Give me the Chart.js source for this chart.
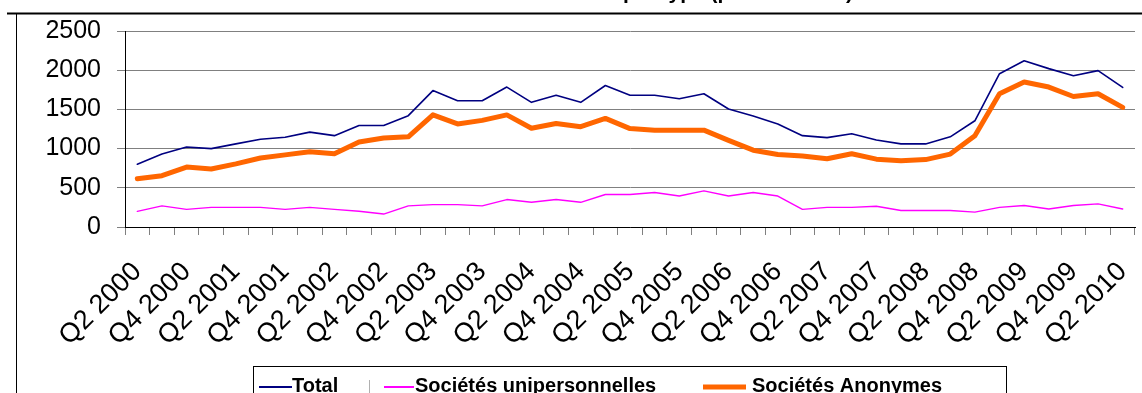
<!DOCTYPE html>
<html>
<head>
<meta charset="utf-8">
<script src="https://cdn.jsdelivr.net/npm/chart.js@4.4.0/dist/chart.umd.min.js"></script>
<style>
  html, body { margin: 0; padding: 0; background: #fff; overflow: hidden; }
  #wrap { position: relative; width: 1142px; height: 393px; }
</style>
</head>
<body>
<div id="wrap"><canvas id="chart" width="1142" height="393"></canvas></div>
<script>
// Quarterly categories (every other one is labelled on the axis)
const quarters = [
  'Q2 2000','Q3 2000','Q4 2000','Q1 2001','Q2 2001','Q3 2001','Q4 2001',
  'Q1 2002','Q2 2002','Q3 2002','Q4 2002','Q1 2003','Q2 2003','Q3 2003',
  'Q4 2003','Q1 2004','Q2 2004','Q3 2004','Q4 2004','Q1 2005','Q2 2005',
  'Q3 2005','Q4 2005','Q1 2006','Q2 2006','Q3 2006','Q4 2006','Q1 2007',
  'Q2 2007','Q3 2007','Q4 2007','Q1 2008','Q2 2008','Q3 2008','Q4 2008',
  'Q1 2009','Q2 2009','Q3 2009','Q4 2009','Q1 2010','Q2 2010'
];

const total = [
  800, 930, 1020, 1000, 1060, 1120, 1145, 1210, 1165, 1295, 1295, 1420,
  1740, 1610, 1610, 1785, 1590, 1680, 1590, 1805, 1680, 1680, 1635, 1700,
  1505, 1415, 1315, 1165, 1140, 1190, 1110, 1060, 1060, 1150, 1355, 1955,
  2120, 2020, 1930, 1995, 1780
];

const unipersonnelles = [
  200, 270, 225, 250, 250, 250, 225, 250, 225, 200, 165, 270,
  285, 285, 270, 350, 315, 350, 315, 415, 415, 440, 395, 460,
  395, 440, 395, 225, 250, 250, 265, 210, 210, 210, 190, 250,
  275, 230, 275, 295, 230
];

const anonymes = [
  615, 655, 765, 740, 805, 880, 920, 960, 935, 1085, 1135, 1150,
  1430, 1315, 1360, 1430, 1260, 1320, 1280, 1385, 1255, 1235, 1235, 1235,
  1105, 980, 925, 905, 870, 935, 865, 845, 860, 930, 1165, 1700,
  1850, 1785, 1665, 1700, 1525
];

const seriesNames = ['Total', 'Sociétés unipersonnelles', 'Sociétés Anonymes'];
const seriesColors = ['#000080', '#FF00FF', '#FF6600'];
const seriesWidths = [1.6, 1.4, 5];
const yTicks = [0, 500, 1000, 1500, 2000, 2500];
const titleText = 'Créations de sociétés par type (par trimestre)';

const FONT = "'Liberation Sans', Arial, Helvetica, sans-serif";

// Outer frame of the chart area (top rule and left edge)
const framePlugin = {
  id: 'frame',
  afterDraw(chart) {
    const ctx = chart.ctx;
    ctx.save();
    ctx.strokeStyle = '#000';
    ctx.lineWidth = 2;
    ctx.beginPath();
    ctx.moveTo(7, 13.5);
    ctx.lineTo(chart.width, 13.5);
    ctx.stroke();
    ctx.lineWidth = 1;
    ctx.beginPath();
    ctx.moveTo(16.5, 13);
    ctx.lineTo(16.5, chart.height);
    ctx.stroke();
    ctx.restore();
  }
};

// Title sits above the frame, mostly outside the visible canvas
const titlePlugin = {
  id: 'topTitle',
  afterDraw(chart) {
    const ctx = chart.ctx;
    ctx.save();
    ctx.font = 'bold 21px ' + FONT;
    ctx.fillStyle = '#000';
    ctx.textAlign = 'right';
    ctx.textBaseline = 'alphabetic';
    ctx.fillText(titleText, 853, -1);
    ctx.restore();
  }
};

// Boxed legend along the bottom edge
const legendPlugin = {
  id: 'boxLegend',
  afterDraw(chart) {
    const ctx = chart.ctx;
    ctx.save();
    ctx.strokeStyle = '#000';
    ctx.lineWidth = 1;
    ctx.strokeRect(253.5, 366.5, 753, 60);

    // faint divider after the first entry
    ctx.strokeStyle = '#b0b0b0';
    ctx.beginPath();
    ctx.moveTo(369.5, 380);
    ctx.lineTo(369.5, 393);
    ctx.stroke();

    const entries = [
      { x0: 259, x1: 292, tx: 292 },
      { x0: 384, x1: 414, tx: 415 },
      { x0: 703, x1: 746, tx: 752 }
    ];
    const lineY = 387;
    ctx.font = 'bold 20px ' + FONT;
    ctx.textBaseline = 'alphabetic';
    ctx.textAlign = 'left';
    chart.data.datasets.forEach((ds, i) => {
      const e = entries[i];
      ctx.strokeStyle = ds.borderColor;
      ctx.lineWidth = ds.borderWidth < 3 ? 2 : ds.borderWidth;
      ctx.lineCap = 'butt';
      ctx.beginPath();
      ctx.moveTo(e.x0, lineY);
      ctx.lineTo(e.x1, lineY);
      ctx.stroke();
      ctx.fillStyle = '#000';
      ctx.fillText(ds.label, e.tx, 392);
    });
    ctx.restore();
  }
};

const ctx = document.getElementById('chart').getContext('2d');
new Chart(ctx, {
  type: 'line',
  data: {
    labels: quarters,
    datasets: [
      { label: seriesNames[0], data: total },
      { label: seriesNames[1], data: unipersonnelles },
      { label: seriesNames[2], data: anonymes }
    ].map((ds, i) => Object.assign(ds, {
      borderColor: seriesColors[i],
      backgroundColor: seriesColors[i],
      borderWidth: seriesWidths[i],
      pointRadius: 0,
      tension: 0,
      fill: false,
      borderJoinStyle: 'round',
      borderCapStyle: 'round',
      order: 3 - i
    }))
  },
  options: {
    responsive: false,
    animation: false,
    devicePixelRatio: 1,
    layout: { padding: { left: 0, top: 31, right: 7, bottom: 393 - 227 - 120 } },
    plugins: {
      legend: { display: false },
      title: { display: false },
      tooltip: { enabled: false }
    },
    scales: {
      x: {
        type: 'category',
        offset: true,
        grid: {
          display: true,
          drawOnChartArea: false,
          drawTicks: true,
          tickLength: 8,
          offset: true,
          color: '#808080',
          lineWidth: 1
        },
        border: { display: true, color: '#000', width: 1 },
        ticks: {
          autoSkip: false,
          maxRotation: 45,
          minRotation: 45,
          padding: 21,
          labelOffset: 0,
          color: '#000',
          font: { family: FONT, size: 27 },
          callback: (v, i) => (i % 2 === 0 ? quarters[i] : '')
        },
        afterFit(scale) {
          scale.height = 120;
          scale.paddingLeft = 0;
          scale.paddingRight = 0;
        }
      },
      y: {
        min: yTicks[0],
        max: yTicks[yTicks.length - 1],
        afterBuildTicks(scale) {
          scale.ticks = yTicks.map(v => ({ value: v }));
        },
        grid: {
          color: '#808080',
          lineWidth: 1,
          drawTicks: true,
          tickLength: 8
        },
        border: { display: true, color: '#000', width: 1 },
        ticks: {
          padding: 16,
          color: '#000',
          font: { family: FONT, size: 25 },
          callback: (v) => String(v)
        },
        afterFit(scale) {
          scale.width = 125;
        }
      }
    }
  },
  plugins: [framePlugin, titlePlugin, legendPlugin]
});
</script>
</body>
</html>
